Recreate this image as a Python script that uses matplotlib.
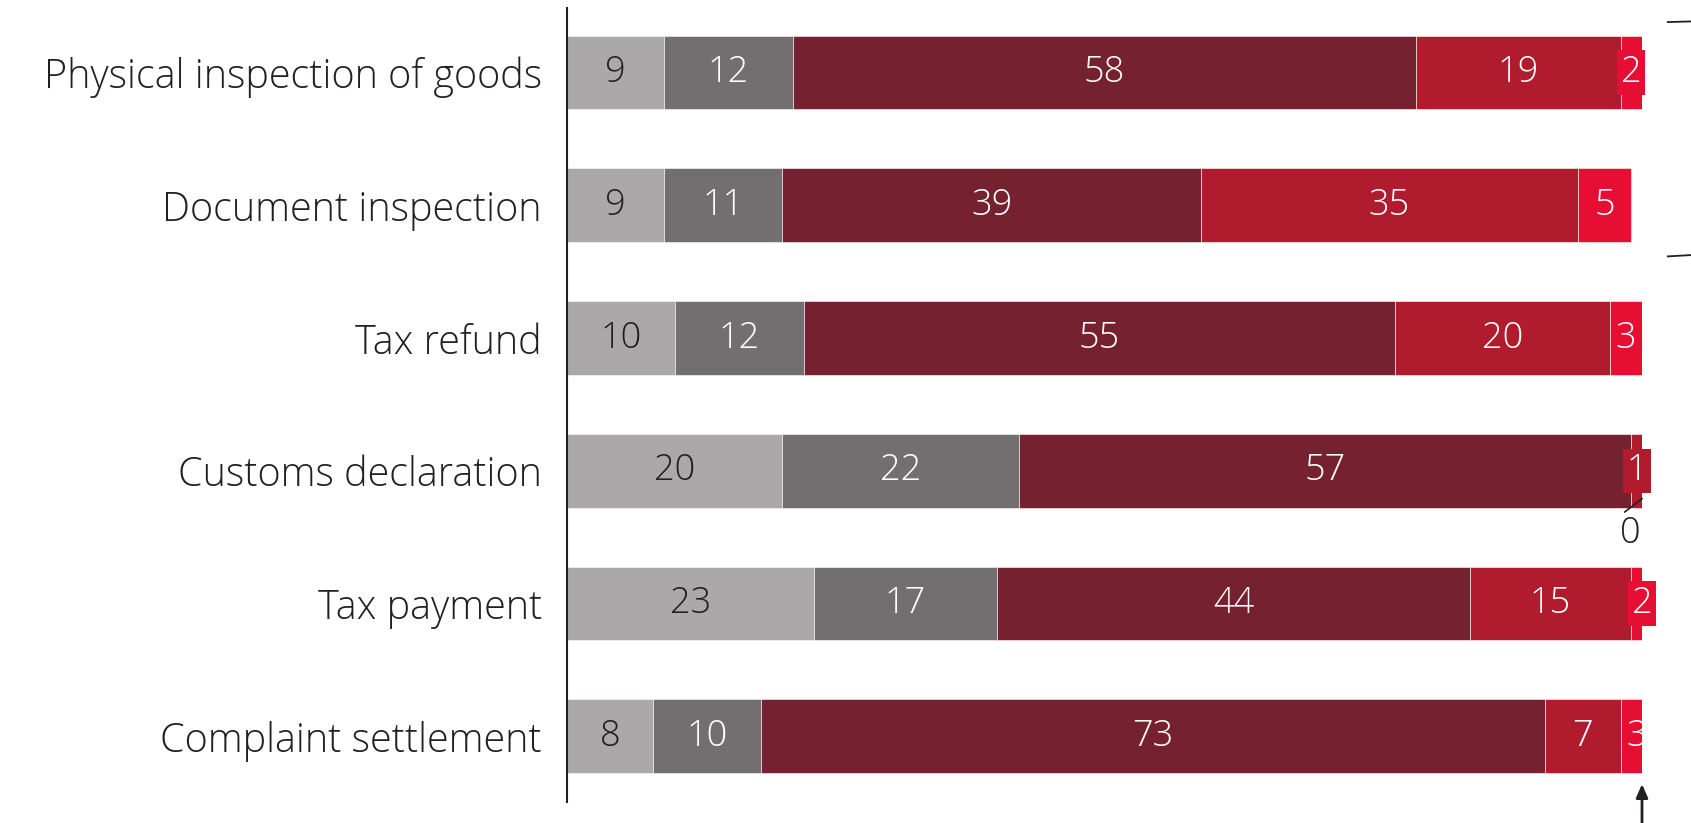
import matplotlib
matplotlib.use("Agg")
import matplotlib.pyplot as plt

categories = [
    "Physical inspection of goods",
    "Document inspection",
    "Tax refund",
    "Customs declaration",
    "Tax payment",
    "Complaint settlement",
]
very_poor = [9, 9, 10, 20, 23, 8]
poor = [12, 11, 12, 22, 17, 10]
average = [58, 39, 55, 57, 44, 73]
good = [19, 35, 20, 1, 15, 7]
very_good = [2, 5, 3, 0, 2, 3]

series = [very_poor, poor, average, good, very_good]
colors = ["#ABA8A9", "#736F70", "#76212F", "#B01C2E", "#E60E33"]
text_colors = ["#231F20", "white", "white", "white", "white"]

plt.rcParams["font.family"] = ["Open Sans", "DejaVu Sans"]
plt.rcParams["font.weight"] = "light"

fig = plt.figure(figsize=(16.91, 8.23), dpi=100)
ax = fig.add_axes([567 / 1691, 1 - 802 / 823, 1075 / 1691, (802 - 8) / 823])

ypos = list(range(len(categories)))
left = [0] * len(categories)
for vals, col, tcol in zip(series, colors, text_colors):
    ax.barh(ypos, vals, left=left, height=0.555, color=col,
            edgecolor="white", linewidth=0.4)
    for y, v, l in zip(ypos, vals, left):
        if v == 0:
            continue
        kw = {}
        if v <= 2:
            # narrow segments get a box so the number stays readable
            kw = dict(bbox=dict(boxstyle="square,pad=0.1", fc=col, ec="none"))
        ax.text(l + v / 2, y, str(v), ha="center", va="center", fontsize=26,
                color=tcol, **kw)
    left = [a + b for a, b in zip(left, vals)]

ax.set_xlim(0, 100)
ax.set_ylim(len(categories) - 0.505, -0.486)
ax.set_yticks(ypos)
ax.set_yticklabels(categories, fontsize=28.5, color="#231F20")
ax.tick_params(axis="y", length=0, pad=18)
ax.set_xticks([])
for s in ["top", "right", "bottom"]:
    ax.spines[s].set_visible(False)
ax.spines["left"].set_color("#231F20")
ax.spines["left"].set_linewidth(1.5)

# zero label for the empty segment of customs declaration
ax.text(98.9, 3.47, "0", fontsize=26, color="#231F20", ha="center", va="center")
ax.plot([98.4, 100], [3.31, 3.21], color="#231F20", lw=1.2, clip_on=False)

# arrow pointing at the bar ends
ax.annotate("", xy=(100, 5.36), xytext=(100, 5.72),
            arrowprops=dict(arrowstyle="-|>,head_width=0.35,head_length=0.8",
                            color="#231F20", lw=2, shrinkA=0, shrinkB=0),
            annotation_clip=False)

# bracket ends at the right edge
ax.plot([102.4, 104.6], [-0.38, -0.385], color="#231F20", lw=1.3, clip_on=False)
ax.plot([102.4, 104.6], [1.385, 1.375], color="#231F20", lw=1.3, clip_on=False)

fig.savefig("out.png", dpi=100)
